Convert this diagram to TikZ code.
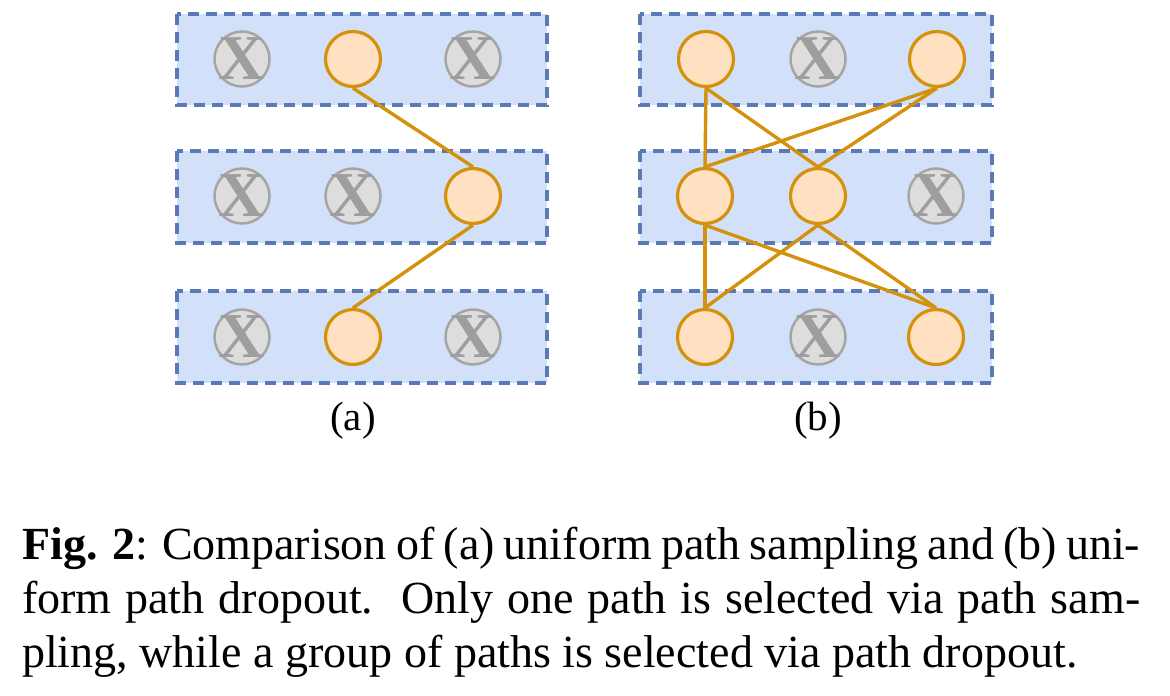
\documentclass[tikz,border=0pt]{standalone}
\usepackage{fontspec}
\setmainfont{Liberation Serif}
\definecolor{boxfill}{RGB}{210,225,249}
\definecolor{boxline}{RGB}{90,122,181}
\definecolor{onfill}{RGB}{255,224,193}
\definecolor{online}{RGB}{212,146,12}
\definecolor{offfill}{RGB}{221,221,221}
\definecolor{offline}{RGB}{165,165,165}
\definecolor{xcol}{RGB}{158,158,158}
\begin{document}
\begin{tikzpicture}[x=1pt,y=-1pt,
  layerbox/.style={fill=boxfill,draw=boxline,line width=3.5pt,dash pattern=on 11pt off 7pt},
  onnode/.style={circle,draw=online,fill=onfill,line width=3.2pt,minimum size=55pt,inner sep=0pt},
  offnode/.style={circle,draw=offline,fill=offfill,line width=2.5pt,minimum size=55pt,inner sep=0pt,
    label={[text=xcol,inner sep=0pt,font=\bfseries\fontsize{64}{64}\selectfont]center:X}},
  link/.style={draw=online,line width=3.4pt},
  sublabel/.style={font=\fontsize{41}{41}\selectfont,anchor=base,inner sep=0pt}]
\useasboundingbox (0,0) rectangle (1170,696);
% boxes
\foreach \xa/\xb/\nm in {177/547/A,640/992/B}{
  \draw[layerbox] (\xa,14) rectangle (\xb,105);
  \draw[layerbox] (\xa,151) rectangle (\xb,243);
  \draw[layerbox] (\xa,291) rectangle (\xb,383);
}
% panel (a)
\node[offnode] (a11) at (242,59) {};
\node[onnode]  (a12) at (353,59) {};
\node[offnode] (a13) at (473,59) {};
\node[offnode] (a21) at (242,196) {};
\node[offnode] (a22) at (353,196) {};
\node[onnode]  (a23) at (473,196) {};
\node[offnode] (a31) at (242,337) {};
\node[onnode]  (a32) at (353,337) {};
\node[offnode] (a33) at (473,337) {};
\draw[link] (a12.south) -- (a23.north);
\draw[link] (a23.south) -- (a32.north);
% panel (b)
\node[onnode]  (b11) at (706,59) {};
\node[offnode] (b12) at (818,59) {};
\node[onnode]  (b13) at (937,59) {};
\node[onnode]  (b21) at (705,196) {};
\node[onnode]  (b22) at (818,196) {};
\node[offnode] (b23) at (936,196) {};
\node[onnode]  (b31) at (705,337) {};
\node[offnode] (b32) at (818,337) {};
\node[onnode]  (b33) at (936,337) {};
\draw[link] (b11.south) -- (b21.north);
\draw[link] (b11.south) -- (b22.north);
\draw[link] (b13.south) -- (b21.north);
\draw[link] (b13.south) -- (b22.north);
\draw[link] (b21.south) -- (b31.north);
\draw[link] (b21.south) -- (b33.north);
\draw[link] (b22.south) -- (b31.north);
\draw[link] (b22.south) -- (b33.north);
% sub labels
\node[sublabel] (la) at (353,430) {(a)};
\node[sublabel] (lb) at (818,430) {(b)};
% caption
\node[anchor=north west,inner sep=0pt,text width=1118pt,align=justify,
  font=\fontsize{46}{54}\selectfont] (cap) at (22,527)
  {\textbf{Fig. 2}: Comparison of (a) uniform path sampling and (b) uni-\linebreak
   form path dropout.\ \ Only one path is selected via path sam-\linebreak
   pling, while a group of paths is selected via path dropout.};
\end{tikzpicture}
\end{document}
